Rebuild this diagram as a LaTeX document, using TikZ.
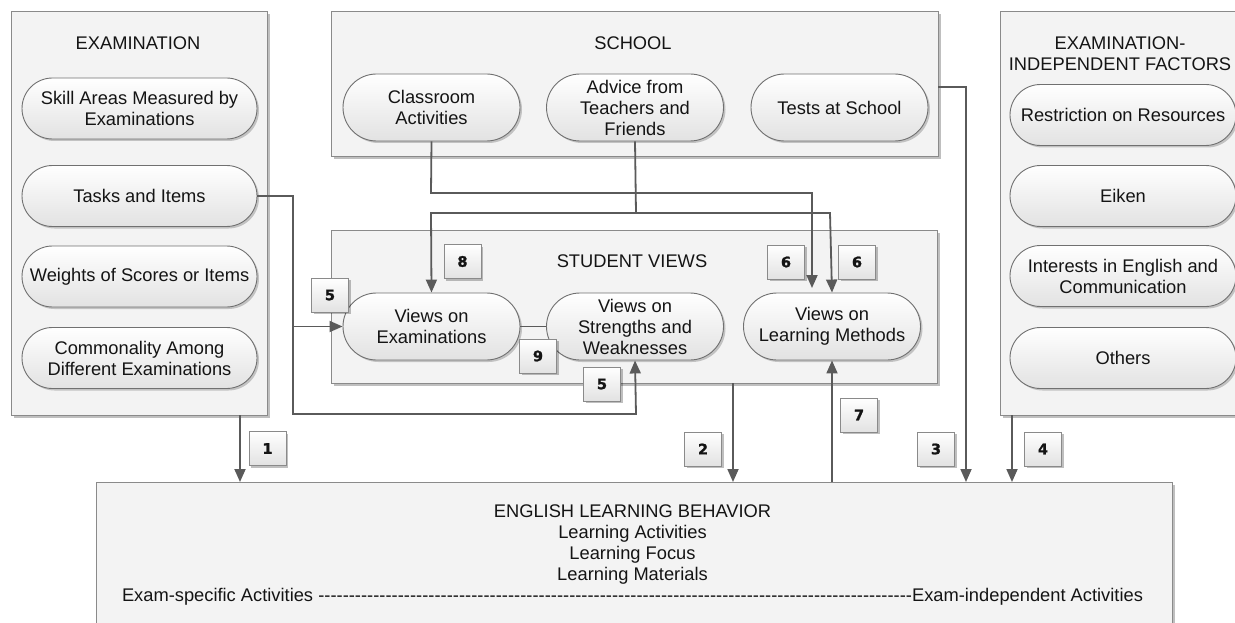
\documentclass[tikz,border=0pt]{standalone}
\usepackage{fontspec}
\setmainfont{Liberation Sans}
\newfontfamily\numfont[FakeBold=1.5]{DejaVu Sans Bold}
\usetikzlibrary{shadows,arrows.meta}
\definecolor{lineg}{HTML}{5A5A5A}
\definecolor{boxb}{HTML}{8A8A8A}
\definecolor{panelf}{HTML}{F3F3F3}
\definecolor{pillb}{HTML}{707070}
\definecolor{pillbot}{HTML}{E2E2E2}
\definecolor{txt}{HTML}{141414}
\begin{document}
\begin{tikzpicture}[x=1pt,y=-1pt,
  every node/.style={text=txt},
  panel/.style={draw=boxb, line width=1pt, fill=panelf, inner sep=0pt,
    drop shadow={shadow xshift=2.5pt, shadow yshift=-2.5pt, fill=black, opacity=0.25}},
  pillbase/.style={draw=pillb, line width=0.9pt, top color=white, bottom color=pillbot,
    inner sep=0pt, align=center, font=\fontsize{18.3}{21}\selectfont,
    drop shadow={shadow xshift=2pt, shadow yshift=-2pt, fill=black, opacity=0.2}},
  pillE/.style={pillbase, rounded corners=30.5pt, minimum width=235pt, minimum height=61pt},
  pillS/.style={pillbase, rounded corners=33.5pt, minimum width=177pt, minimum height=67pt},
  pillR/.style={pillbase, rounded corners=30.5pt, minimum width=226pt, minimum height=61pt},
  ttl/.style={align=center, font=\fontsize{18.3}{21}\selectfont, inner sep=0pt},
  numbox/.style={draw=boxb, line width=0.9pt, top color=white, bottom color=pillbot,
    minimum width=37pt, minimum height=34pt, inner sep=0pt, font=\numfont\fontsize{14.5}{14.5}\selectfont,
    drop shadow={shadow xshift=2pt, shadow yshift=-2pt, fill=black, opacity=0.25}},
  conn/.style={draw=lineg, line width=1.8pt},
  arr/.style={conn, -{Triangle[length=13pt,width=11pt]}}
]
\useasboundingbox (0,0) rectangle (1235,623);
\clip (0,0) rectangle (1235,623);
\fill[white] (0,0) rectangle (1235,623);

% panels
\node[panel, minimum width=256pt, minimum height=403pt] (exam) at (139,213.5) {};
\node[panel, minimum width=607pt, minimum height=145pt] (school) at (634.5,84.5) {};
\node[panel, minimum width=606pt, minimum height=153pt] (sv) at (634,306.5) {};
\node[panel, minimum width=250pt, minimum height=403pt] (indep) at (1125,213.5) {};
\node[panel, minimum width=1076pt, minimum height=158pt] (elb) at (634,561) {};

% titles
\node[ttl] (examT) at (138,43) {EXAMINATION};
\node[ttl] (schoolT) at (633,43) {SCHOOL};
\node[ttl] (svT) at (632,261) {STUDENT VIEWS};
\node[ttl] (indepT) at (1120,53.5) {EXAMINATION-\\INDEPENDENT FACTORS};

% examination pills
\node[pillE] (skill) at (139.5,108.5) {Skill Areas Measured by\\Examinations};
\node[pillE] (tasks) at (139.5,196) {Tasks and Items};
\node[pillE] (weights) at (139.5,276.5) {Weights of Scores or Items};
\node[pillE] (common) at (139.5,358) {Commonality Among\\Different Examinations};

% school pills
\node[pillS] (class) at (431.5,107.5) {Classroom\\Activities};
\node[pillS] (advice) at (635,107.5) {Advice from\\Teachers and\\Friends};
\node[pillS] (tests) at (839.5,107.5) {Tests at School};

% student views pills
\node[pillS] (vexam) at (431.5,326.5) {Views on\\Examinations};
\node[pillS] (vstr) at (635,326.5) {Views on\\Strengths and\\Weaknesses};
\node[pillS] (vlm) at (832,326.5) {Views on\\Learning Methods};

% independent factor pills
\node[pillR] (restr) at (1123,115) {Restriction on Resources};
\node[pillR] (eiken) at (1123,196) {Eiken};
\node[pillR] (inter) at (1123,276) {Interests in English and\\Communication};
\node[pillR] (others) at (1123,358) {Others};

% bottom text
\node[ttl] (elbT) at (632.5,544.5) {ENGLISH LEARNING BEHAVIOR\\Learning Activities\\Learning Focus\\Learning Materials};
\node[ttl] (scale) at (632.5,597) {\hbox to 1021pt{Exam-specific Activities \xleaders\hbox{-}\hfill Exam-independent Activities}};

% coordinates
\coordinate (t5) at (293,196);
\coordinate (m5) at (293,326.5);
\coordinate (b5) at (293,414);
\coordinate (c5) at (636,414);
\coordinate (a6) at (431,193);
\coordinate (b6) at (812,193);
\coordinate (e6) at (812,288);
\coordinate (a8) at (636,213);
\coordinate (l8) at (431,213);
\coordinate (r8) at (830,213);
\coordinate (s1) at (240,415);
\coordinate (e1) at (240,482);
\coordinate (s2) at (733,383);
\coordinate (e2) at (733,482);
\coordinate (s3) at (938,87);
\coordinate (k3) at (966,87);
\coordinate (e3) at (966,482);
\coordinate (s4) at (1012,415);
\coordinate (e4) at (1012,482);
\coordinate (s7) at (832,482);

% connectors
\draw[conn] (tasks.east) -- (t5) -- (m5);
\draw[arr] (m5) -- (vexam.west);
\draw[arr] (m5) -- (b5) -- (c5) -- (vstr.south);
\draw[arr] (class.south) -- (a6) -- (b6) -- (e6);
\draw[conn] (advice.south) -- (a8);
\draw[arr] (a8) -- (l8) -- (vexam.north);
\draw[arr] (a8) -- (r8) -- (vlm.north);
\draw[conn] (vexam.east) -- (vstr.west);
\draw[arr] (s1) -- (e1);
\draw[arr] (s2) -- (e2);
\draw[arr] (s3) -- (k3) -- (e3);
\draw[arr] (s4) -- (e4);
\draw[arr] (s7) -- (vlm.south);

% number labels
\node[numbox] (n1) at (267.5,448.5) {1};
\node[numbox] (n2) at (703,449) {2};
\node[numbox] (n3) at (936,449) {3};
\node[numbox] (n4) at (1043,449) {4};
\node[numbox] (n7) at (859,415) {7};
\node[numbox] (n5a) at (330,295) {5};
\node[numbox] (n5b) at (602,384) {5};
\node[numbox] (n8) at (462.5,261.5) {8};
\node[numbox] (n6a) at (786,262) {6};
\node[numbox] (n6b) at (857,262) {6};
\node[numbox] (n9) at (538,356) {9};
\end{tikzpicture}
\end{document}
